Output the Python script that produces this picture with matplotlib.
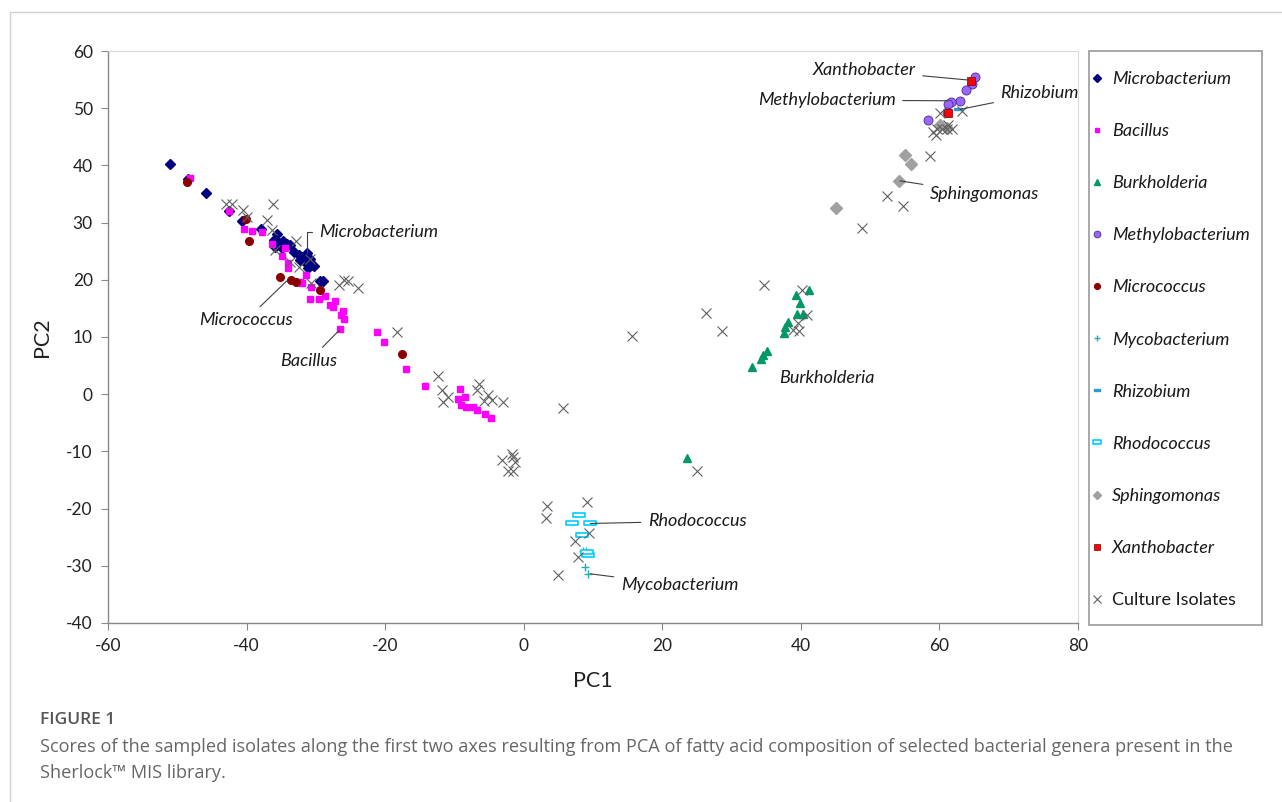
import matplotlib
matplotlib.use("Agg")
import matplotlib.pyplot as plt
from matplotlib.path import Path
from matplotlib.patches import Rectangle

plt.rcParams['font.family'] = ['Lato', 'DejaVu Sans']
plt.rcParams['axes.unicode_minus'] = False

# PCA scores (PC1, PC2)
microbacterium_x = [-51.0, -48.5, -45.9, -42.5, -40.7, -37.9, -35.6, -36.1, -35.4, -34.8, -34.2, -33.7,
                    -35.9, -34.9, -33.2, -32.5, -32.0, -31.3, -30.8, -32.3, -31.5, -30.3, -31.1, -29.4, -29.0]
microbacterium_y = [40.2, 37.7, 35.1, 32.0, 30.3, 28.8, 28.0, 26.9, 26.6, 26.8, 26.3, 26.0,
                    25.8, 25.5, 24.9, 24.3, 24.0, 24.6, 23.7, 23.4, 23.1, 22.4, 22.0, 19.8, 19.8]

bacillus_x = [-48.2, -42.5, -40.3, -39.2, -37.8, -36.3, -34.4, -34.9, -34.0, -34.0, -32.3, -32.0, -31.4,
              -30.7, -30.8, -29.6, -28.7, -27.9, -27.5, -27.2, -26.1, -26.4, -26.0, -26.5, -21.2, -20.1,
              -17.0, -14.2, -9.2, -8.5, -9.5, -9.0, -8.3, -7.3, -6.8, -5.6, -4.7]
bacillus_y = [37.8, 32.0, 28.8, 28.6, 28.4, 26.2, 25.5, 24.1, 22.9, 22.0, 19.6, 19.4, 20.8,
              18.7, 16.7, 16.7, 17.2, 15.6, 15.3, 16.3, 14.6, 13.9, 13.1, 11.4, 10.8, 9.1,
              4.4, 1.4, 0.9, -0.5, -0.8, -1.9, -2.3, -2.3, -2.7, -3.4, -4.1]

burkholderia_x = [41.2, 39.3, 39.9, 39.4, 40.3, 38.1, 37.7, 37.5, 35.1, 34.6, 34.2, 32.9, 23.5]
burkholderia_y = [18.2, 17.4, 15.9, 14.1, 14.1, 12.6, 11.8, 10.7, 7.5, 6.8, 6.1, 4.8, -11.2]

methylobacterium_x = [65.2, 64.7, 63.8, 62.9, 61.6, 61.2, 61.1, 58.4]
methylobacterium_y = [55.4, 54.3, 53.1, 51.3, 51.0, 50.7, 49.4, 47.9]

micrococcus_x = [-48.6, -40.1, -39.6, -35.2, -33.6, -32.8, -29.4, -17.6]
micrococcus_y = [37.1, 30.7, 26.8, 20.5, 20.0, 19.6, 18.3, 7.0]

mycobacterium_x = [8.5, 9.0, 8.8, 9.3]
mycobacterium_y = [-27.4, -27.4, -30.2, -31.5]

rhizobium_x = [62.7, 9.8, 8.6]
rhizobium_y = [49.9, -22.6, -24.7]

rhodococcus_x = [8.0, 6.9, 9.6, 8.4, 9.3, 9.1]
rhodococcus_y = [-21.2, -22.6, -22.6, -24.7, -28.1, -27.6]

sphingomonas_x = [55.1, 55.9, 54.2, 45.1, 60.1, 61.1]
sphingomonas_y = [41.9, 40.3, 37.3, 32.5, 47.0, 46.6]

xanthobacter_x = [64.6, 61.3]
xanthobacter_y = [54.7, 49.2]

isolates_x = [-42.9, -42.1, -40.5, -39.9, -36.2, -37.1, -36.4, -32.8, -35.9, -33.7, -32.4, -30.8, -30.7,
              -26.7, -26.0, -25.3, -23.9, -18.3, -12.3, -11.8, -10.9, -11.7, -6.5, -6.7, -5.1, -5.8,
              -4.6, -3.0, -1.7, -3.2, -1.2, -2.2, -1.5, -1.6, 5.7, 3.4, 3.2, 9.2, 9.4, 7.4, 7.8, 5.0,
              25.0, 15.6, 26.3, 28.6, 34.7, 40.1, 40.9, 39.6, 38.9, 39.8, 48.8, 52.4, 54.7, 58.6,
              59.1, 59.6, 60.3, 61.1, 61.8, 59.5, 61.3, 60.1, 63.2]
isolates_y = [33.3, 33.2, 32.2, 31.0, 33.3, 30.4, 28.7, 26.7, 25.2, 23.1, 22.3, 23.7, 19.5,
              19.1, 19.9, 19.8, 18.5, 10.8, 3.2, 0.7, -0.5, -1.3, 1.7, 0.7, -0.2, -1.2,
              -1.0, -1.4, -10.4, -11.5, -11.8, -13.4, -13.4, -11.0, -2.5, -19.6, -21.6, -18.8, -24.2, -25.7, -28.4, -31.6,
              -13.5, 10.1, 14.2, 11.1, 19.1, 18.3, 13.8, 12.4, 11.2, 11.1, 29.1, 34.7, 32.9, 41.6,
              45.9, 46.4, 46.3, 46.4, 46.3, 45.3, 47.0, 49.1, 49.5]

# text labels: (name, x, y, ha, pointed-at x, y)
labels = [
    ("Microbacterium", -29.5, 28.3, "left", -31.3, 24.6),
    ("Micrococcus", -40.1, 12.9, "center", -34.2, 19.8),
    ("Bacillus", -31.0, 5.8, "center", -26.6, 11.2),
    ("Burkholderia", 36.9, 2.8, "left", None, None),
    ("Rhodococcus", 17.9, -22.2, "left", 9.6, -22.6),
    ("Mycobacterium", 14.0, -33.4, "left", 9.6, -31.4),
    ("Sphingomonas", 58.6, 35.0, "left", 54.3, 37.3),
    ("Xanthobacter", 56.6, 56.6, "right", 64.4, 54.9),
    ("Methylobacterium", 53.7, 51.4, "right", 61.3, 51.3),
    ("Rhizobium", 68.8, 52.6, "left", 63.0, 49.8),
]

bar = Path([(-1, -0.35), (1, -0.35), (1, 0.35), (-1, 0.35), (-1, -0.35)],
           [Path.MOVETO, Path.LINETO, Path.LINETO, Path.LINETO, Path.CLOSEPOLY])

fig = plt.figure(figsize=(12.82, 8.02), dpi=100)
ax = fig.add_axes([108/1282, 1 - 623/802, 970/1282, 572/802])

h = []
h += ax.plot(microbacterium_x, microbacterium_y, 'D', color='#000080', ms=5, ls='none', label='Microbacterium')
h += ax.plot(bacillus_x, bacillus_y, 's', color='#FF00FF', ms=4.5, ls='none', label='Bacillus')
h += ax.plot(burkholderia_x, burkholderia_y, '^', color='#009966', ms=6, ls='none', label='Burkholderia')
h += ax.plot(methylobacterium_x, methylobacterium_y, 'o', mfc='#9966FF', mec='#4B2A8A', mew=0.6, ms=6.5,
             ls='none', label='Methylobacterium')
h += ax.plot(micrococcus_x, micrococcus_y, 'o', color='#8B0000', ms=5.5, ls='none', label='Micrococcus')
h += ax.plot(mycobacterium_x, mycobacterium_y, '+', color='#20B2B2', ms=6, mew=1, ls='none', label='Mycobacterium')
h += ax.plot(rhizobium_x, rhizobium_y, marker=bar, color='#3399CC', ms=6, ls='none', label='Rhizobium')
h += ax.plot(rhodococcus_x, rhodococcus_y, marker=bar, mfc='white', mec='#00CCFF', mew=1.2, ms=8.5,
             ls='none', label='Rhodococcus')
h += ax.plot(sphingomonas_x, sphingomonas_y, 'D', color='#A0A0A0', ms=6, ls='none', label='Sphingomonas')
h += ax.plot(xanthobacter_x, xanthobacter_y, 's', mfc='#FF0000', mec='#800000', mew=0.5, ms=6,
             ls='none', label='Xanthobacter')
h += ax.plot(isolates_x, isolates_y, 'x', color='#606060', ms=7, mew=0.8, ls='none', label='Culture Isolates')

for name, tx, ty, ha, px, py in labels:
    if px is None:
        ax.text(tx, ty, name, ha=ha, va='center', fontsize=13, style='italic', color='#1a1a1a')
        continue
    cs = "angle,angleA=0,angleB=90,rad=0" if name == "Microbacterium" else "arc3"
    ax.annotate(name, xy=(px, py), xytext=(tx, ty), ha=ha, va='center', fontsize=13,
                style='italic', color='#1a1a1a',
                arrowprops=dict(arrowstyle='-', color='#404040', lw=0.8, shrinkA=3, shrinkB=0,
                                connectionstyle=cs))

ax.set_xlim(-60, 80)
ax.set_ylim(-40, 60)
ax.set_xticks(range(-60, 81, 20))
ax.set_yticks(range(-40, 61, 10))
ax.tick_params(direction='out', length=5, width=0.8, color='#888888', labelsize=12.5, labelcolor='#222222', pad=6)
for s in ['left', 'bottom']:
    ax.spines[s].set_color('#888888')
    ax.spines[s].set_linewidth(1.0)
for s in ['top', 'right']:
    ax.spines[s].set_color('#D9D9D9')
    ax.spines[s].set_linewidth(0.8)
ax.set_xlabel('PC1', fontsize=15.5, color='#222222', labelpad=12)
ax.set_ylabel('PC2', fontsize=15.5, color='#222222', labelpad=10)

# legend box
fig.patches.append(Rectangle((1089/1282, 1 - 625/802), 173/1282, 574/802, transform=fig.transFigure,
                             fill=False, edgecolor='#999999', lw=1.2))
leg = fig.legend(handles=h, loc='upper left', bbox_to_anchor=(1091/1282, 1 - 71/802), frameon=False,
                 fontsize=13, handlelength=0.7, handletextpad=0.45, labelspacing=2.0, borderpad=0,
                 borderaxespad=0, markerscale=0.75)
for t in leg.get_texts():
    t.set_color('#1a1a1a')
    if t.get_text() != 'Culture Isolates':
        t.set_style('italic')

# outer frame and caption
fig.patches.append(Rectangle((10/1282, -0.01), 1.0, 1 - 12/802 + 0.01, transform=fig.transFigure,
                             fill=False, edgecolor='#D0D0D0', lw=1.0))
fig.text(40/1282, 1 - 720/802, 'FIGURE 1', fontsize=12.5, fontweight='semibold', color='#555555',
         family=['Open Sans', 'DejaVu Sans'], va='center')
fig.text(40/1282, 1 - 747/802,
         'Scores of the sampled isolates along the first two axes resulting from PCA of fatty acid '
         'composition of selected bacterial genera present in the',
         fontsize=13.1, color='#666666', family=['Open Sans', 'DejaVu Sans'], va='center')
fig.text(40/1282, 1 - 773/802, 'Sherlock\u2122 MIS library.', fontsize=13.1, color='#666666',
         family=['Open Sans', 'DejaVu Sans'], va='center')

fig.savefig('out.png', dpi=100)
